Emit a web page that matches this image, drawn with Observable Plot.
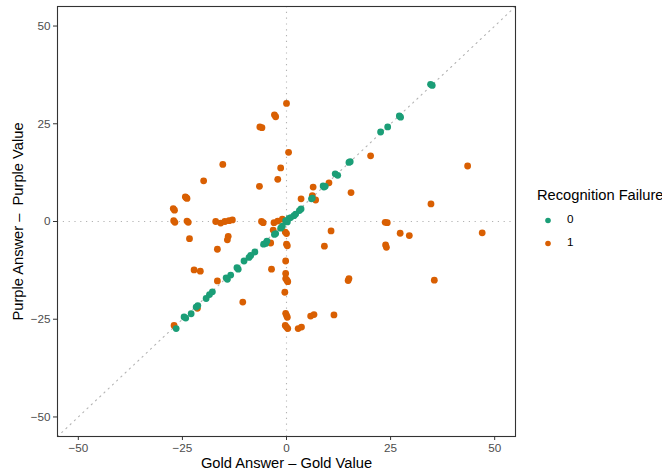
<!DOCTYPE html>
<html>
<head>
<meta charset="utf-8">
<script src="https://cdn.jsdelivr.net/npm/d3@7"></script>
<script src="https://cdn.jsdelivr.net/npm/@observablehq/plot@0.6"></script>
<style>
  html, body { margin: 0; padding: 0; background: #fff; }
  #chart { position: relative; width: 662px; height: 473px; font-family: "Liberation Sans", Arial, Helvetica, sans-serif; }
  #legend { position: absolute; left: 537px; top: 185px; color: #000; }
  #legend .title { font-size: 14.7px; line-height: 20px; white-space: nowrap; }
  #legend .row { position: absolute; left: 0; height: 22px; width: 60px; }
  #legend .row svg { position: absolute; left: 5px; top: 5px; }
  #legend .row span { position: absolute; left: 30px; top: 3px; font-size: 11.7px; color: #000; }
</style>
</head>
<body>
<div id="chart"></div>
<script>
// Differences for answers where the recognition succeeded (failure = 0)
const recognizedGold = [
  34.6, 35.0, 27.1, 27.4, 24.3, 22.6, 15.0, 15.3, 11.7, 12.3,
  9.0, 8.8, 9.3, 6.2, 6.0, 3.5, 3.1, 2.2, 1.8, 1.0, 0.6, -0.2, 0.2,
  -1.4, -1.0, -2.6, -2.9, -5.0, -5.5, -4.7, -7.6, -9.0, -8.6, -10.2,
  -11.6, -11.9, -13.4, -14.2, -14.5, -17.8, -18.5, -19.3, -21.7, -21.3,
  -22.9, -24.2, -24.6, -26.5
];
const recognizedPurple = [
  35.1, 34.8, 27.0, 26.7, 24.2, 22.9, 15.1, 15.3, 12.2, 11.8,
  8.8, 9.1, 9.0, 6.0, 5.8, 3.2, 2.8, 1.9, 1.5, 1.0, 0.8, 0.2, -0.1,
  -1.7, -1.2, -3.1, -3.3, -5.6, -5.8, -5.0, -7.8, -9.2, -8.7, -10.1,
  -12.2, -11.8, -13.7, -14.8, -14.4, -18.0, -18.7, -19.7, -21.9, -21.5,
  -23.6, -24.7, -24.4, -27.4
];

// Differences for answers where the recognition failed (failure = 1)
const failedGold = [
  0.0, -2.9, -2.6, -6.4, -5.9, 0.5, -15.3, -1.4, -2.1, -19.9, -6.5,
  -24.3, -23.9, -24.1, -27.2, -26.9, -27.1, -26.8, -23.9, -23.6,
  -17.0, -15.8, -14.8, -13.8, -13.0, -6.0, -5.6, -3.0, -2.1, 0.0, -1.0,
  20.2, 10.2, 6.4, 15.5, 3.5, 6.2, 7.0, 43.5, 34.7, 23.7, 24.2,
  -23.3, -14.0, -14.2, -16.6, -22.2, -20.7, -16.6, -10.5, -3.6, -3.8,
  -27.0, -21.4, 0.0, -0.3, 0.0, 0.2, -0.2, -0.2, 0.1, -0.2, 0.3, -0.4,
  0.0, -0.2, 0.2, 0.0, -0.3, 0.3, 10.7, 9.1, 23.8, 24.0, 14.8, 15.0,
  5.8, 6.6, 11.4, 2.8, 3.6, 27.3, 29.5, 47.0, 35.5, -3.2
];
const failedPurple = [
  30.2, 27.3, 26.8, 24.2, 24.0, 17.7, 14.6, 13.7, 10.8, 10.4, 9.0,
  6.3, 5.9, 6.1, 3.3, 2.9, 0.2, -0.2, 0.1, -0.2,
  0.0, -0.4, 0.0, 0.2, 0.4, 0.0, -0.3, -0.3, 0.1, 0.0, 0.6,
  16.8, 9.9, 8.8, 7.4, 5.8, 6.6, 5.5, 14.2, 4.5, -0.2, -0.3,
  -4.4, -3.8, -4.7, -7.1, -12.4, -12.7, -15.2, -20.6, -12.2, -5.5,
  -26.6, -22.2, -3.1, -2.7, -5.8, -6.2, -10.1, -13.3, -15.0, -14.6, -15.4, -18.1,
  -24.0, -23.5, -24.5, -27.0, -26.6, -27.4, -2.4, -6.3, -6.0, -6.6, -15.1, -14.6,
  -24.2, -23.8, -23.9, -27.4, -27.0, -3.0, -3.6, -2.9, -15.0, -2.2
];

const failureLevels = ["0", "1"];
const failureColors = ["#1B9E77", "#D95F02"];
const axisTicks = [-50, -25, 0, 25, 50];
const axisDomain = [-55, 55];

const points = [
  ...failedGold.map((g, i) => ({gold: g, purple: failedPurple[i], failure: "1"})),
  ...recognizedGold.map((g, i) => ({gold: g, purple: recognizedPurple[i], failure: "0"}))
];

const minus = d => (d < 0 ? "\u2212" + Math.abs(d) : String(d));
const refStyle = {stroke: "#b3b3b3", strokeWidth: 1.1, strokeDasharray: "1.2,4.6"};

const chart = Plot.plot({
  width: 662,
  height: 473,
  marginLeft: 57,
  marginRight: 147,
  marginTop: 6,
  marginBottom: 37,
  style: {fontFamily: "'Liberation Sans', Arial, Helvetica, sans-serif", background: "#fff"},
  x: {domain: axisDomain},
  y: {domain: axisDomain},
  color: {domain: failureLevels, range: failureColors},
  marks: [
    Plot.ruleX([0], refStyle),
    Plot.ruleY([0], refStyle),
    Plot.line(axisDomain, {x: d => d, y: d => d, ...refStyle}),
    Plot.dot(points, {x: "gold", y: "purple", fill: "failure", r: 3.4}),
    Plot.frame({stroke: "#333", strokeWidth: 1.1}),
    Plot.axisX({ticks: axisTicks, tickFormat: minus, tickSize: 4, tickPadding: 3,
      stroke: "#333", fill: "#4d4d4d", fontSize: 11.7, label: null}),
    Plot.axisY({ticks: axisTicks, tickFormat: minus, tickSize: 4, tickPadding: 3,
      stroke: "#333", fill: "#4d4d4d", fontSize: 11.7, label: null}),
    Plot.text(["Gold Answer \u2013 Gold Value"], {frameAnchor: "bottom", lineAnchor: "middle",
      dy: 27, fontSize: 14.7, fill: "#000"}),
    Plot.text(["Purple Answer \u2013  Purple Value"], {frameAnchor: "left", lineAnchor: "middle",
      textAnchor: "middle", rotate: -90, dx: -39, fontSize: 14.7, fill: "#000"})
  ]
});

const root = document.getElementById("chart");
root.appendChild(chart);

// Legend for the recognition failure colours
const legend = document.createElement("div");
legend.id = "legend";
legend.innerHTML = `<div class="title">Recognition Failure</div>`;
failureLevels.forEach((level, i) => {
  const row = document.createElement("div");
  row.className = "row";
  row.style.top = (24 + i * 22.5) + "px";
  row.innerHTML = `<svg width="12" height="12"><circle cx="6" cy="6.5" r="2.8" fill="${failureColors[i]}"/></svg><span>${level}</span>`;
  legend.appendChild(row);
});
root.appendChild(legend);
</script>
</body>
</html>
